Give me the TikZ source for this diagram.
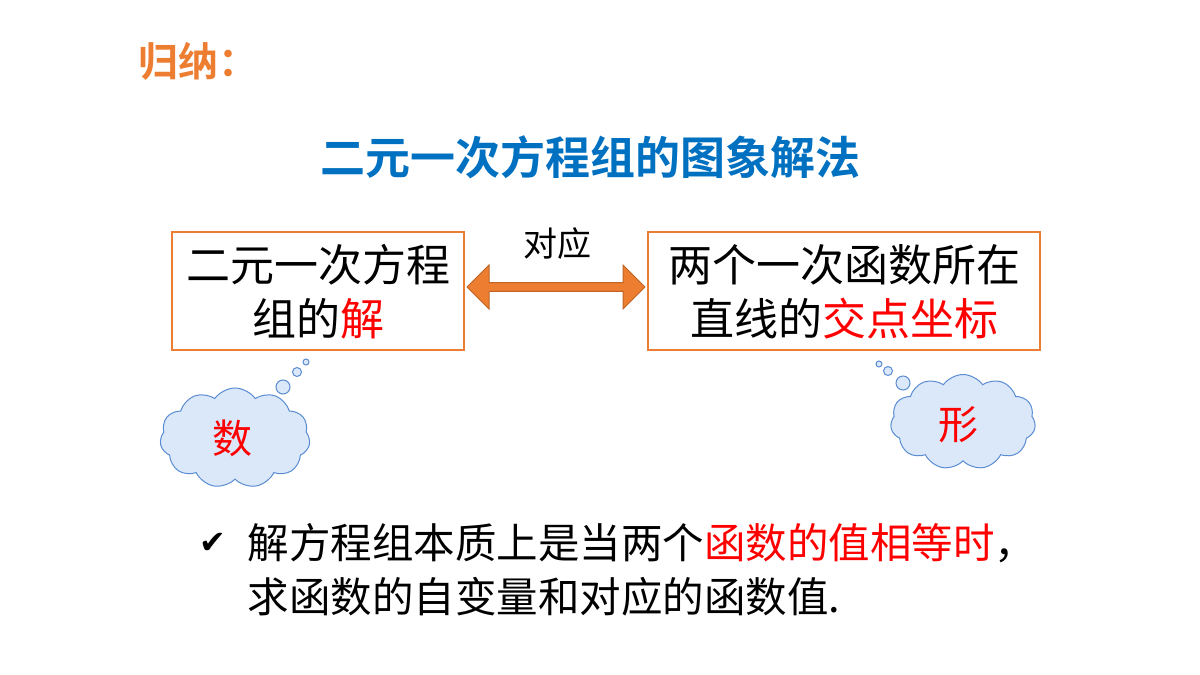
\documentclass[tikz,border=0pt]{standalone}
\usepackage{fontspec}
\setmainfont{Noto Sans CJK SC}
\newfontfamily\cjkb{Noto Sans CJK SC Bold}
\newfontfamily\sym{DejaVu Sans}
\usetikzlibrary{shapes.symbols,shapes.arrows}
\definecolor{org}{RGB}{237,125,49}
\definecolor{ttl}{RGB}{0,112,192}
\definecolor{cfill}{RGB}{218,232,250}
\definecolor{cdraw}{RGB}{90,140,210}
\tikzset{
 box/.style={draw=org,line width=2pt,minimum width=292pt,minimum height=118pt,inner sep=0pt},
 cloudy/.style={cloud,cloud puffs=11,cloud puff arc=110,aspect=1.5,draw=cdraw,fill=cfill,line width=1pt,minimum width=150pt,minimum height=100pt},
 bub/.style={circle,draw=cdraw,fill=cfill,line width=1pt,inner sep=0pt},
 big/.style={font=\fontsize{44}{54}\selectfont,align=center},
 body/.style={font=\fontsize{41.5}{54}\selectfont,align=left,anchor=west}
}
\begin{document}
\begin{tikzpicture}[x=1pt,y=-1pt]
\useasboundingbox (0,0) rectangle (1200,675);
\node[text=org,font=\cjkb\fontsize{40}{42}\selectfont] (g) at (198,61) {归纳：};
\node[text=ttl,font=\cjkb\fontsize{45}{48}\selectfont] (t) at (590,157) {二元一次方程组的图象解法};
\node[box] (L) at (318,291) {};
\node[big] (Lt) at (318,292) {二元一次方程\\组的\textcolor{red}{解}};
\node[box,minimum width=392pt] (R) at (844,291) {};
\node[big] (Rt) at (844,292) {两个一次函数所在\\直线的\textcolor{red}{交点坐标}};
\node[double arrow,fill=org,draw=org!80!black,minimum width=44pt,double arrow head extend=10pt,minimum height=178pt,inner sep=2pt,line width=1pt] (A) at (556,287) {};
\node[font=\fontsize{34}{36}\selectfont] (dy) at (557,244) {对应};
\node[cloudy] (c1) at (235,438) {};
\node[text=red,font=\fontsize{40}{42}\selectfont] (n1) at (232,438) {数};
\node[bub,minimum size=14pt] (b11) at (283,387) {};
\node[bub,minimum size=9pt] (b12) at (297,372) {};
\node[bub,minimum size=6pt] (b13) at (306,362) {};
\node[cloudy,minimum width=145pt,minimum height=95pt] (c2) at (963,422) {};
\node[text=red,font=\fontsize{40}{42}\selectfont] (n2) at (958,425) {形};
\node[bub,minimum size=14pt] (b21) at (903,383) {};
\node[bub,minimum size=9pt] (b22) at (888,371) {};
\node[bub,minimum size=6pt] (b23) at (879,364) {};
\node[font=\sym\fontsize{32}{36}\selectfont] (ck) at (213,543) {✔};
\node[body] (l1) at (244,543) {解方程组本质上是当两个\textcolor{red}{函数的值相等时}，};
\node[body] (l2) at (244,597) {求函数的自变量和对应的函数值.};
\end{tikzpicture}
\end{document}
